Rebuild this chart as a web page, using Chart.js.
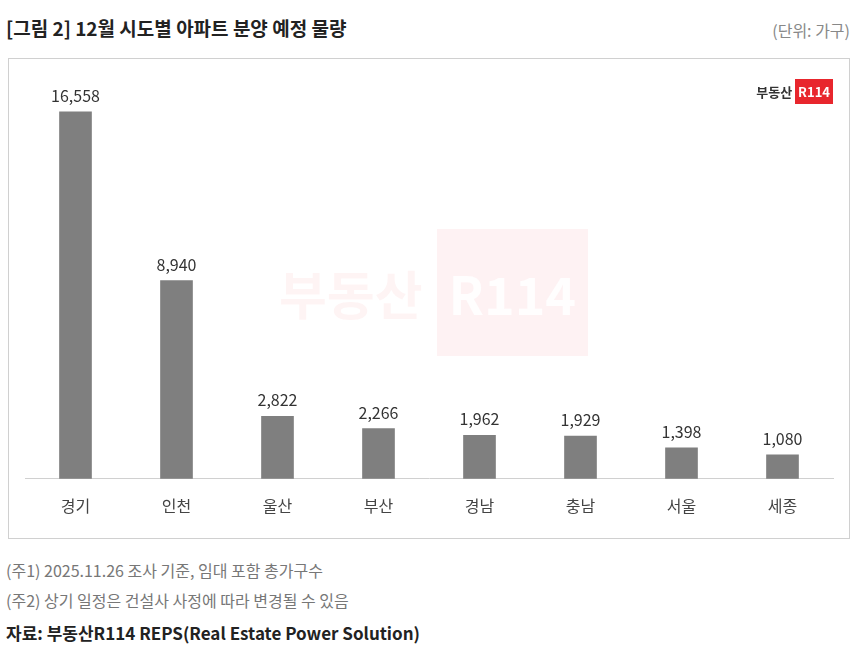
<!DOCTYPE html>
<html>
<head>
<meta charset="utf-8">
<script src="https://cdn.jsdelivr.net/npm/chart.js@4"></script>
<style>
  body { margin: 0; background: #fff; font-family: "Noto Sans CJK KR", "Noto Sans", sans-serif; }
  #wrap { position: relative; width: 860px; height: 648px; }
  #title { position: absolute; left: 6px; top: 14px; font-size: 19px; font-weight: bold; color: #222; }
  #unit { position: absolute; right: 10px; top: 18px; font-size: 16px; color: #888; }
  #box { position: absolute; left: 8px; top: 58px; width: 840px; height: 479px; border: 1px solid #d0d0d0; }
  #logo { position: absolute; right: 16px; top: 20px; font-size: 13px; font-weight: bold; color: #333; display: flex; align-items: center; gap: 3px; }
  #logo span { background: #e8262d; color: #fff; padding: 3px 3px; font-size: 13px; }
  #wm { position: absolute; left: 270px; top: 170px; font-size: 52px; font-weight: bold; color: rgba(232,38,45,0.05); display: flex; align-items: center; gap: 14px; }
  #wm span { background: rgba(232,38,45,0.06); color: rgba(255,255,255,0.9); padding: 26px 12px; }
  .note { position: absolute; left: 6px; font-size: 16px; color: #777; }
  #src { position: absolute; left: 6px; top: 620px; font-size: 17px; font-weight: bold; color: #222; }
</style>
</head>
<body>
<div id="wrap">
  <div id="title">[그림 2] 12월 시도별 아파트 분양 예정 물량</div>
  <div id="unit">(단위: 가구)</div>
  <div id="box">
    <div id="wm">부동산 <span>R114</span></div>
    <canvas id="chart" width="840" height="479"></canvas>
    <div id="logo">부동산<span>R114</span></div>
  </div>
  <div class="note" style="top:558px">(주1) 2025.11.26 조사 기준, 임대 포함 총가구수</div>
  <div class="note" style="top:588px">(주2) 상기 일정은 건설사 사정에 따라 변경될 수 있음</div>
  <div id="src">자료: 부동산R114 REPS(Real Estate Power Solution)</div>
</div>
<script>
const regions = ['경기', '인천', '울산', '부산', '경남', '충남', '서울', '세종'];
const units = [16558, 8940, 2822, 2266, 1962, 1929, 1398, 1080];

const valueLabels = {
  id: 'valueLabels',
  afterDatasetsDraw(chart) {
    const ctx = chart.ctx;
    const meta = chart.getDatasetMeta(0);
    ctx.save();
    ctx.font = '16px "Noto Sans CJK KR", sans-serif';
    ctx.fillStyle = '#333';
    ctx.textAlign = 'center';
    ctx.textBaseline = 'bottom';
    meta.data.forEach((bar, i) => {
      ctx.fillText(units[i].toLocaleString('en-US'), bar.x, bar.y - 8);
    });
    ctx.restore();
  }
};

new Chart(document.getElementById('chart'), {
  type: 'bar',
  data: {
    labels: regions,
    datasets: [{
      data: units,
      backgroundColor: '#7f7f7f',
      barThickness: 32
    }]
  },
  options: {
    responsive: false,
    animation: false,
    layout: { padding: { top: 32, left: 16, right: 16, bottom: 4 } },
    plugins: { legend: { display: false }, tooltip: { enabled: false } },
    scales: {
      x: {
        grid: { display: false, drawTicks: false },
        border: { color: '#d0d0d0' },
        ticks: { color: '#444', font: { size: 16, family: '"Noto Sans CJK KR"' }, padding: 18 }
      },
      y: { display: false, min: 0, max: 17500 }
    }
  },
  plugins: [valueLabels]
});
</script>
</body>
</html>
